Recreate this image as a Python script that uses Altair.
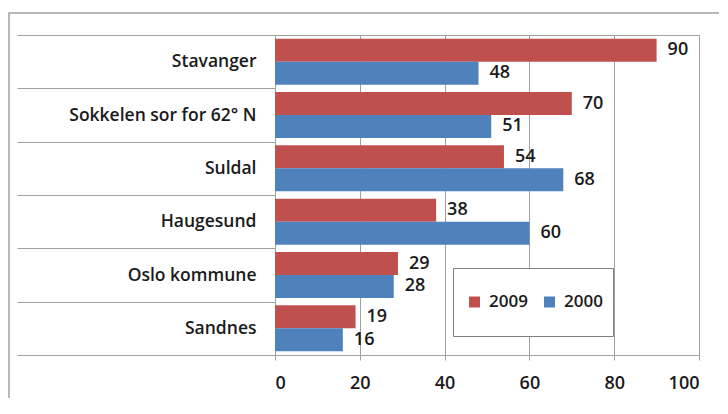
import altair as alt
import pandas as pd

categories = ["Stavanger", "Sokkelen sor for 62° N", "Suldal", "Haugesund", "Oslo kommune", "Sandnes"]
series = ["2009", "2000"]
values_2009 = [90, 70, 54, 38, 29, 19]
values_2000 = [48, 51, 68, 60, 28, 16]
x_ticks = [0, 20, 40, 60, 80, 100]

rows = []
for c, a, b in zip(categories, values_2009, values_2000):
    rows.append({"cat": c, "series": "2009", "value": a})
    rows.append({"cat": c, "series": "2000", "value": b})
df = pd.DataFrame(rows)

FONT = "Open Sans"
W = 600
TXT = "#1a1a1a"
LINE = "#a0a0a0"

base = alt.Chart(df).encode(
    y=alt.Y(
        "cat:N",
        sort=categories,
        title=None,
        scale=alt.Scale(paddingInner=0, paddingOuter=0),
        axis=alt.Axis(
            tickBand="extent",
            tickSize=258,
            tickColor=LINE,
            domainColor=LINE,
            labelPadding=-239,
            labelFont=FONT,
            labelFontWeight=W,
            labelFontSize=17.5,
            labelColor=TXT,
            labelLimit=300,
        ),
    ),
    yOffset=alt.YOffset("series:N", sort=series, scale=alt.Scale(paddingInner=0, paddingOuter=0.16)),
    x=alt.X(
        "value:Q",
        title=None,
        scale=alt.Scale(domain=[0, 100], nice=False),
        axis=alt.Axis(
            values=x_ticks,
            tickSize=5,
            tickColor=LINE,
            domainColor=LINE,
            gridColor=LINE,
            labelPadding=14,
            labelFont=FONT,
            labelFontWeight=W,
            labelFontSize=18,
            labelColor=TXT,
        ),
    ),
)

bars = base.mark_bar(cornerRadius=0).encode(
    color=alt.Color(
        "series:N",
        sort=series,
        scale=alt.Scale(domain=series, range=["#C0504D", "#4F81BD"]),
        legend=alt.Legend(
            title=" ",
            titleOrient="left",
            titleFontSize=1,
            titlePadding=3,
            orient="none",
            legendX=178,
            legendY=233,
            direction="horizontal",
            strokeColor="#7f7f7f",
            fillColor="white",
            padding=10,
            clipHeight=48,
            symbolType="square",
            symbolSize=121,
            symbolStrokeWidth=0,
            labelFont=FONT,
            labelFontWeight=W,
            labelFontSize=17,
            labelColor=TXT,
            columnPadding=13,
            labelOffset=6,
        ),
    )
)

labels = base.mark_text(
    align="left", baseline="middle", dx=11, font=FONT, fontWeight=W, fontSize=18, color=TXT
).encode(text="value:Q")

frame = alt.Chart(pd.DataFrame({"k": [0]})).mark_rect(
    fill=None, stroke=LINE, strokeWidth=1.5
).encode(
    x=alt.value(-266), x2=alt.value(470), y=alt.value(-22), y2=alt.value(400)
)

chart = alt.layer(frame, bars, labels).properties(
    width=424,
    height=320,
    autosize=alt.AutoSizeParams(type="none"),
    padding={"left": 267, "top": 27, "right": 20, "bottom": 43},
    background="white",
).configure_view(stroke=LINE)

chart.save("out.html", embed_options={"renderer": "svg", "actions": False})
